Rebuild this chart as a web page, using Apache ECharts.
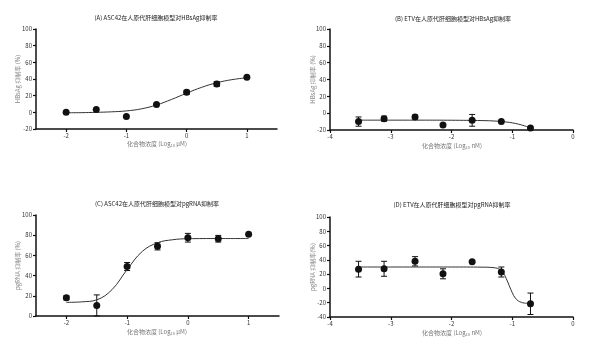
<!DOCTYPE html>
<html><head><meta charset="utf-8">
<script src="https://cdn.jsdelivr.net/npm/echarts@6/dist/echarts.min.js"></script>
<style>html,body{margin:0;padding:0;background:#fff}#c{width:600px;height:360px}</style>
</head><body><div id="c"></div>
<script>
// Panel titles
const titles = [
  "(A) ASC42在人原代肝细胞模型对HBsAg抑制率",
  "(B) ETV在人原代肝细胞模型对HBsAg抑制率",
  "(C) ASC42在人原代肝细胞模型对pgRNA抑制率",
  "(D) ETV在人原代肝细胞模型对pgRNA抑制率"
];
const yNames = ["HBsAg 抑制率 (%)", "HBsAg 抑制率 (%)", "pgRNA 抑制率 (%)", "pgRNA 抑制率(%)"];
const xUnits = ["μM", "nM", "μM", "nM"];
const xTicksASC = [-2, -1, 0, 1];
const xTicksETV = [-4, -3, -2, -1, 0];

// Panel A
const xA = [-2, -1.5, -1, -0.5, 0, 0.5, 1];
const yA = [0, 3.5, -5, 9.5, 24, 34, 42];
const eA = [0, 0, 0, 0, 2.5, 3, 0];
const cxA = [-2, -1.75, -1.5, -1.25, -1, -0.75, -0.5, -0.25, 0, 0.25, 0.5, 0.75, 1];
const cyA = [-0.5, -0.4, 0, 0.6, 1.7, 4.2, 8.8, 15.5, 23, 30, 35.5, 39.2, 41.5];

// Panel B
const xB = [-3.53, -3.11, -2.6, -2.14, -1.66, -1.18, -0.7];
const yB = [-10, -6.5, -4.5, -14, -8.5, -10, -17.5];
const eB = [5.5, 3, 2.2, 0, 7, 0, 0];
const cxB = [-3.53, -3, -2.5, -2, -1.5, -1.25, -1.1, -1, -0.9, -0.8, -0.7];
const cyB = [-8.3, -8.3, -8.3, -8.4, -8.8, -9.5, -10.5, -11.5, -13, -15, -17.5];

// Panel C
const xC = [-2, -1.5, -1, -0.5, 0, 0.5, 1];
const yC = [18, 10.5, 49, 69, 77.5, 76.5, 81];
const eC = [2, 10.4, 4, 3.6, 4.3, 3.3, 0];
const cxC = [-2, -1.75, -1.5, -1.25, -1, -0.75, -0.5, -0.25, 0, 0.5, 1];
const cyC = [13.5, 14, 16, 26, 46, 64, 72.5, 75.5, 76.5, 76.7, 76.7];

// Panel D
const xD = [-3.53, -3.11, -2.6, -2.14, -1.66, -1.18, -0.7];
const yD = [27, 27.5, 38, 20.5, 37.5, 23, -21.5];
const eD = [11, 10.5, 6.5, 7, 0, 7, 15];
const cxD = [-3.53, -3, -2.5, -2, -1.5, -1.3, -1.2, -1.15, -1.1, -1.05, -1, -0.95, -0.9, -0.85, -0.8, -0.7];
const cyD = [30, 30, 30, 30, 29.8, 29, 26.5, 22, 14, 4, -6, -13.5, -17.5, -19.5, -20.5, -21];

const panels = [
  {x: xA, y: yA, e: eA, cx: cxA, cy: cyA, xmin: -2.5, xmax: 1.5, ticks: xTicksASC, ymin: -20, ymax: 100,
   grid: {left: 36, top: 29, width: 241, height: 100}, tx: 156, ty: 15, nx: 157, ny: 140, yn: 18},
  {x: xB, y: yB, e: eB, cx: cxB, cy: cyB, xmin: -4, xmax: 0, ticks: xTicksETV, ymin: -20, ymax: 100,
   grid: {left: 330, top: 29, width: 243, height: 101}, tx: 453, ty: 16, nx: 452, ny: 142, yn: 313},
  {x: xC, y: yC, e: eC, cx: cxC, cy: cyC, xmin: -2.5, xmax: 1.5, ticks: xTicksASC, ymin: 0, ymax: 100,
   grid: {left: 36, top: 215, width: 243, height: 101}, tx: 157, ty: 201, nx: 157, ny: 328, yn: 18},
  {x: xD, y: yD, e: eD, cx: cxD, cy: cyD, xmin: -4, xmax: 0, ticks: xTicksETV, ymin: -40, ymax: 100,
   grid: {left: 330, top: 217, width: 243, height: 100}, tx: 452, ty: 202, nx: 452, ny: 329, yn: 313}
];

const FONT = '"Noto Sans CJK SC", "Noto Sans", sans-serif';
const grids = [], xAxes = [], yAxes = [], series = [], graphics = [];

panels.forEach((p, i) => {
  grids.push(p.grid);
  xAxes.push({
    type: 'value', gridIndex: i, min: p.xmin, max: p.xmax,
    axisLine: {onZero: false, lineStyle: {color: '#111', width: 1.5}},
    axisTick: {show: true, length: 3, customValues: p.ticks, lineStyle: {color: '#111', width: 1.2}},
    axisLabel: {customValues: p.ticks, fontSize: 6, color: '#333', margin: 4, fontFamily: FONT},
    splitLine: {show: false}
  });
  yAxes.push({
    type: 'value', gridIndex: i, min: p.ymin, max: p.ymax, interval: 20,
    axisLine: {show: true, onZero: false, lineStyle: {color: '#111', width: 1.5}},
    axisTick: {show: true, length: 3, lineStyle: {color: '#111', width: 1.2}},
    axisLabel: {fontSize: 6, color: '#333', margin: 4, fontFamily: FONT},
    splitLine: {show: false}
  });
  // fitted curve
  series.push({
    type: 'line', xAxisIndex: i, yAxisIndex: i, smooth: 0.4, symbol: 'none',
    lineStyle: {color: '#333', width: 1}, silent: true,
    data: p.cx.map((v, k) => [v, p.cy[k]])
  });
  // error bars
  series.push({
    type: 'custom', xAxisIndex: i, yAxisIndex: i, silent: true,
    data: p.x.map((v, k) => [v, p.y[k] - p.e[k], p.y[k] + p.e[k]]).filter((d, k) => p.e[k] > 0),
    renderItem: function (params, api) {
      const lo = api.coord([api.value(0), api.value(1)]);
      const hi = api.coord([api.value(0), api.value(2)]);
      const w = 3;
      const st = {stroke: '#111', lineWidth: 1};
      return {type: 'group', children: [
        {type: 'line', shape: {x1: lo[0], y1: lo[1], x2: hi[0], y2: hi[1]}, style: st},
        {type: 'line', shape: {x1: lo[0] - w, y1: lo[1], x2: lo[0] + w, y2: lo[1]}, style: st},
        {type: 'line', shape: {x1: hi[0] - w, y1: hi[1], x2: hi[0] + w, y2: hi[1]}, style: st}
      ]};
    },
    z: 3
  });
  // points
  series.push({
    type: 'scatter', xAxisIndex: i, yAxisIndex: i, symbolSize: 7,
    itemStyle: {color: '#111', opacity: 1}, z: 4,
    data: p.x.map((v, k) => [v, p.y[k]])
  });
  graphics.push({
    type: 'text', x: p.tx, y: p.ty,
    style: {text: titles[i], fontSize: 6, fill: '#222', fontFamily: FONT, align: 'center'}
  });
  graphics.push({
    type: 'text', x: p.nx, y: p.ny,
    style: {
      text: '{a|化合物浓度 (Log}{s|10}{a| ' + xUnits[i] + ')}',
      align: 'center', fontFamily: FONT,
      rich: {a: {fontSize: 6, fill: '#777', fontFamily: FONT}, s: {fontSize: 4, fill: '#777', fontFamily: FONT, padding: [3, 0, 0, 0]}}
    }
  });
  graphics.push({
    type: 'text', x: p.yn, y: p.grid.top + p.grid.height / 2, rotation: Math.PI / 2,
    style: {text: yNames[i], fontSize: 6, fill: '#888', fontFamily: FONT, align: 'center', verticalAlign: 'middle'}
  });
});

const chart = echarts.init(document.getElementById('c'), null, {renderer: 'canvas'});
chart.setOption({
  animation: false,
  backgroundColor: '#fff',
  grid: grids, xAxis: xAxes, yAxis: yAxes, series: series, graphic: graphics
});
</script></body></html>
